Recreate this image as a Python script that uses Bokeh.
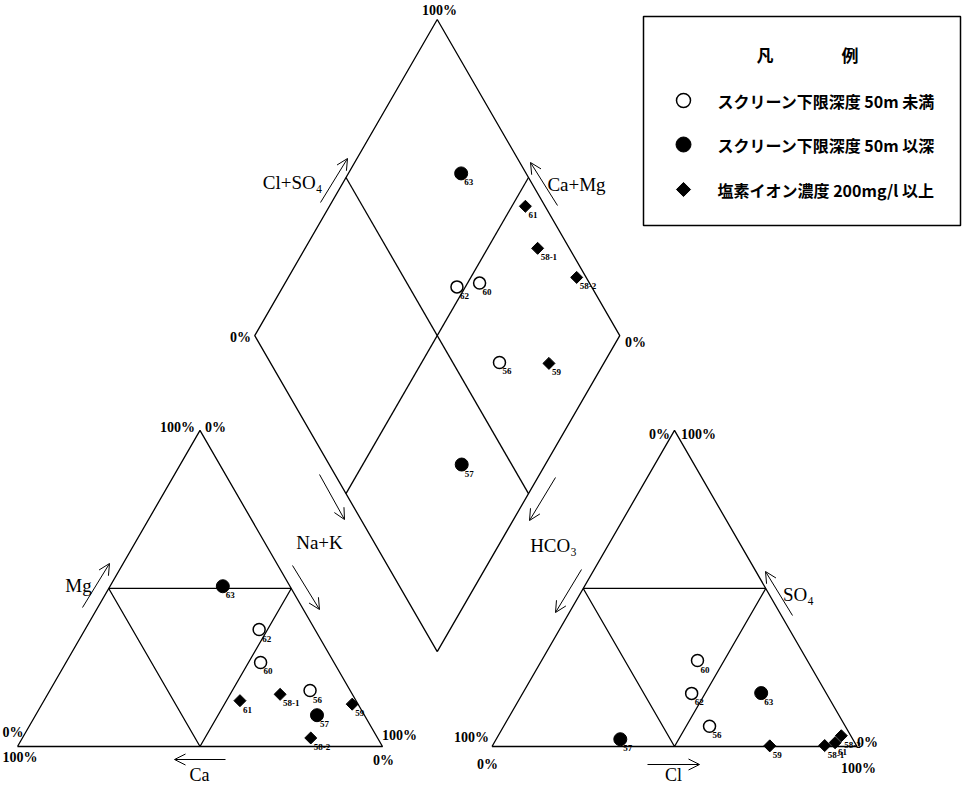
import numpy as np
from bokeh.plotting import figure
from bokeh.models import Arrow, OpenHead, Range1d
from bokeh.core.properties import value
from bokeh.embed import file_html
from bokeh.resources import INLINE

# ---------------- data (% meq) ----------------
samples = ["56", "57", "58-1", "58-2", "59", "60", "61", "62", "63"]
kinds = ["open", "filled", "dia", "dia", "dia", "open", "dia", "open", "filled"]
ca   = [11.0, 13.0, 19.8, 18.3,  1.6, 20.1, 31.8, 15.3, 18.4]
mg   = [17.7,  9.9, 16.5,  2.7, 13.4, 26.6, 14.5, 37.0, 50.7]
nak  = [71.3, 77.1, 63.7, 79.0, 85.0, 53.3, 53.7, 47.7, 30.9]
hco3 = [37.2, 63.7,  8.7,  2.6, 23.8, 30.1,  5.4, 36.9, 17.8]
so4  = [ 6.4,  2.3,  0.3,  3.4,  0.2, 27.2,  1.2, 16.8, 16.9]
cl   = [56.4, 34.0, 91.0, 94.0, 76.0, 42.7, 93.4, 46.3, 65.3]

legend_title = "凡　　　　例"
legend_labels = ["スクリーン下限深度 50m 未満", "スクリーン下限深度 50m 以深", "塩素イオン濃度 200mg/l 以上"]

# ---------------- geometry ----------------
H = np.sqrt(3) / 2
GAP = 30.0
OFF = 100.0 + GAP
SC = 3.65  # px per unit

def P(X, Y):
    """page-pixel layout position -> data units"""
    return (X - 25) / SC, (754 - Y) / SC

ca_a, mg_a, nak_a = map(np.array, (ca, mg, nak))
hc_a, so_a, cl_a = map(np.array, (hco3, so4, cl))
cat_x = nak_a + mg_a / 2
cat_y = mg_a * H
an_x = OFF + cl_a + so_a / 2
an_y = so_a * H
bx, by = 100 + GAP / 2, GAP * H
dia_x = bx - (100 - nak_a) / 2 + (cl_a + so_a) / 2
dia_y = by + (100 - nak_a) * H + (cl_a + so_a) * H

p = figure(width=962, height=785, output_backend="svg", toolbar_location=None,
           x_range=Range1d(-17 / SC, 945 / SC), y_range=Range1d(-39 / SC, 746 / SC),
           min_border=0)
p.axis.visible = False
p.grid.visible = False
p.outline_line_color = None
p.background_fill_color = "white"
p.border_fill_color = "white"

LW = 1.3
def seg(pts, closed=False):
    xs = [q[0] for q in pts]; ys = [q[1] for q in pts]
    if closed:
        xs.append(xs[0]); ys.append(ys[0])
    p.line(xs, ys, line_color="black", line_width=LW)

# cation triangle
seg([(0, 0), (100, 0), (50, 100 * H)], closed=True)
seg([(25, 50 * H), (75, 50 * H)])
seg([(25, 50 * H), (50, 0), (75, 50 * H)])
# anion triangle
seg([(OFF, 0), (OFF + 100, 0), (OFF + 50, 100 * H)], closed=True)
seg([(OFF + 25, 50 * H), (OFF + 75, 50 * H)])
seg([(OFF + 25, 50 * H), (OFF + 50, 0), (OFF + 75, 50 * H)])
# diamond
Bd = (bx, by); Ld = (bx - 50, by + 100 * H); Td = (bx, by + 200 * H); Rd = (bx + 50, by + 100 * H)
seg([Bd, Ld, Td, Rd], closed=True)
mid = lambda u, v: ((u[0] + v[0]) / 2, (u[1] + v[1]) / 2)
seg([mid(Ld, Td), mid(Bd, Rd)])
seg([mid(Td, Rd), mid(Ld, Bd)])

# ---------------- points ----------------
def plot_points(xs, ys):
    xs = np.asarray(xs); ys = np.asarray(ys)
    k = np.array(kinds)
    m = k == "open"
    p.scatter(xs[m], ys[m], marker="circle", size=12, fill_color="white", line_color="black", line_width=1.5)
    m = k == "filled"
    p.scatter(xs[m], ys[m], marker="circle", size=13, fill_color="black", line_color="black")
    m = k == "dia"
    p.scatter(xs[m], ys[m], marker="square", size=8.5, angle=np.pi / 4, fill_color="black", line_color="black")
    p.text(xs, ys, text=samples, x_offset=3, y_offset=9, text_align="left", text_baseline="middle",
           text_font=value("Liberation Sans Narrow"), text_font_style="bold", text_font_size="9px",
           text_color="black")

plot_points(cat_x, cat_y)
plot_points(an_x, an_y)
plot_points(dia_x, dia_y)

# ---------------- arrows ----------------
arrows = [((328, 210), (355, 166)), ((565, 213), (538, 170)), ((327, 482), (352, 527)),
          ((563, 485), (537, 528)), ((90, 615), (117, 571)), ((300, 573), (327, 617)),
          ((233, 767), (182, 767)), ((589, 577), (563, 620)), ((800, 623), (773, 579)),
          ((655, 772), (707, 772))]
for s, e in arrows:
    x0, y0 = P(*s); x1, y1 = P(*e)
    p.add_layout(Arrow(end=OpenHead(size=11, line_width=1, line_color="black"),
                       x_start=x0, y_start=y0, x_end=x1, y_end=y1, line_width=1, line_color="black"))

# ---------------- texts ----------------
def txt(items, size, bold, font="Liberation Serif", align="center"):
    xs, ys, ts = [], [], []
    for t, X, Y in items:
        x, y = P(X, Y); xs.append(x); ys.append(y); ts.append(t)
    p.text(xs, ys, text=ts, text_align=align, text_baseline="middle", text_font=value(font),
           text_font_style="bold" if bold else "normal", text_font_size=size, text_color="black")

pct = [("100%", 447, 18), ("0%", 248, 345), ("0%", 643, 350),
       ("100%", 185, 435), ("0%", 223, 435),
       ("100%", 407, 743), ("0%", 391, 768),
       ("0%", 667, 442), ("100%", 706, 442), ("100%", 479, 745), ("0%", 495, 772),
       ("0%", 875, 750), ("100%", 866, 776)]
txt(pct, "14px", True)
txt([("0%", 10, 740), ("100%", 10, 765)], "14px", True, align="left")
names = [("Cl+SO₄", 300, 190), ("Ca+Mg", 584, 192), ("Na+K", 327, 550), ("HCO₃", 561, 553),
         ("Mg", 86, 593), ("SO₄", 806, 602)]
txt(names, "19px", False)
txt([("Ca", 207, 782), ("Cl", 681, 782)], "18px", False)

# ---------------- legend ----------------
l, t = P(651, 24); r, b = P(968, 233)
p.quad(left=l, right=r, top=t, bottom=b, fill_color="white", line_color="black", line_width=1.5)
txt([(legend_title, 815, 62)], "17px", True, font="Noto Sans CJK JP")
mx, _ = P(691, 0)
ly = [P(0, Y)[1] for Y in (108, 152, 197)]
p.scatter([mx], [ly[0]], marker="circle", size=14, fill_color="white", line_color="black", line_width=1.5)
p.scatter([mx], [ly[1]], marker="circle", size=15, fill_color="black", line_color="black")
p.scatter([mx], [ly[2]], marker="square", size=10, angle=np.pi / 4, fill_color="black", line_color="black")
txt([(legend_labels[0], 725, 108), (legend_labels[1], 725, 152), (legend_labels[2], 725, 197)],
    "16px", True, font="Noto Sans CJK JP", align="left")

open("out.html", "w").write(file_html(p, INLINE))
